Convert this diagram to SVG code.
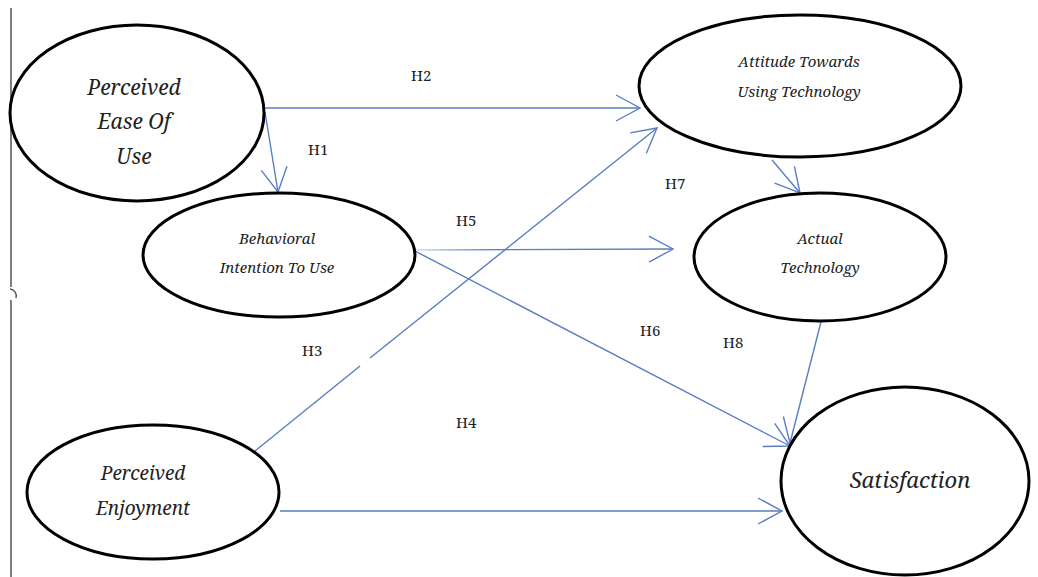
<svg xmlns="http://www.w3.org/2000/svg" width="1038" height="577" viewBox="0 0 1038 577">
<style>
.node{fill:#fff;stroke:#000;stroke-width:3}
.t{font-style:italic;fill:#222;text-anchor:middle}
.lbl{font-size:15px;fill:#222}
.c{fill:none;stroke:#5a7dc4;stroke-width:1.4}
</style>
<defs>
<marker id="ah" markerUnits="userSpaceOnUse" markerWidth="28" markerHeight="32" viewBox="0 0 28 32" refX="26" refY="16" orient="auto">
<path d="M2,3 L26,16 L2,29" fill="none" stroke="#5a7dc4" stroke-width="1.4"/>
</marker>
<linearGradient id="fade" gradientUnits="userSpaceOnUse" x1="420" y1="0" x2="490" y2="0">
<stop offset="0" stop-color="#c9d6ee"/>
<stop offset="1" stop-color="#5a7dc4"/>
</linearGradient>
</defs>
<rect width="1038" height="577" fill="#fff"/>
<g id="margin">
<line x1="11" y1="8" x2="11" y2="287" stroke="#555" stroke-width="1.5"/>
<path d="M10,289 A7,7 0 0 1 16,298" fill="none" stroke="#555" stroke-width="1.5"/>
<line x1="11" y1="300" x2="11" y2="577" stroke="#555" stroke-width="1.5"/>
</g>
<g id="connectors">
<path class="c" d="M265,108 L640,108" marker-end="url(#ah)"/>
<path class="c" d="M265,112 L278,192" marker-end="url(#ah)"/>
<path class="c" d="M255,451 L360,366"/>
<path class="c" d="M370,358 L657,128" marker-end="url(#ah)"/>
<path d="M413,250 L673,249" fill="none" stroke="url(#fade)" stroke-width="1.4" marker-end="url(#ah)"/>
<path class="c" d="M413,250 L790,446" marker-end="url(#ah)"/>
<path class="c" d="M772,160 L800,193" marker-end="url(#ah)"/>
<path class="c" d="M822,318 L790,443" marker-end="url(#ah)"/>
<path class="c" d="M280,511 L782,511" marker-end="url(#ah)"/>
</g>
<g font-family="Noto Serif, serif">
<g id="peou">
<ellipse class="node" cx="137" cy="113" rx="127" ry="88"/>
<text class="t" font-size="21" x="134" y="95">Perceived</text>
<text class="t" font-size="21" x="134" y="129">Ease Of</text>
<text class="t" font-size="21" x="134" y="164">Use</text>
</g>
<g id="biu">
<ellipse class="node" cx="279" cy="255" rx="136" ry="62"/>
<text class="t" font-size="15" x="277" y="244">Behavioral</text>
<text class="t" font-size="15" x="277" y="273">Intention To Use</text>
</g>
<g id="atut">
<ellipse class="node" cx="800" cy="86" rx="161" ry="71"/>
<text class="t" font-size="15" x="799" y="67">Attitude Towards</text>
<text class="t" font-size="15" x="799" y="97">Using Technology</text>
</g>
<g id="at">
<ellipse class="node" cx="820" cy="257" rx="126" ry="64"/>
<text class="t" font-size="15" x="820" y="244">Actual</text>
<text class="t" font-size="15" x="820" y="273">Technology</text>
</g>
<g id="pe">
<ellipse class="node" cx="153" cy="492" rx="126" ry="67"/>
<text class="t" font-size="19" x="143" y="480">Perceived</text>
<text class="t" font-size="19" x="143" y="515">Enjoyment</text>
</g>
<g id="sat">
<ellipse class="node" cx="905" cy="481" rx="124" ry="94"/>
<text class="t" font-size="22" x="910" y="488">Satisfaction</text>
</g>
<g id="labels">
<text class="lbl" x="411" y="81">H2</text>
<text class="lbl" x="308" y="155">H1</text>
<text class="lbl" x="665" y="189">H7</text>
<text class="lbl" x="456" y="226">H5</text>
<text class="lbl" x="640" y="336">H6</text>
<text class="lbl" x="723" y="348">H8</text>
<text class="lbl" x="302" y="356">H3</text>
<text class="lbl" x="456" y="428">H4</text>
</g>
</g>
</svg>
